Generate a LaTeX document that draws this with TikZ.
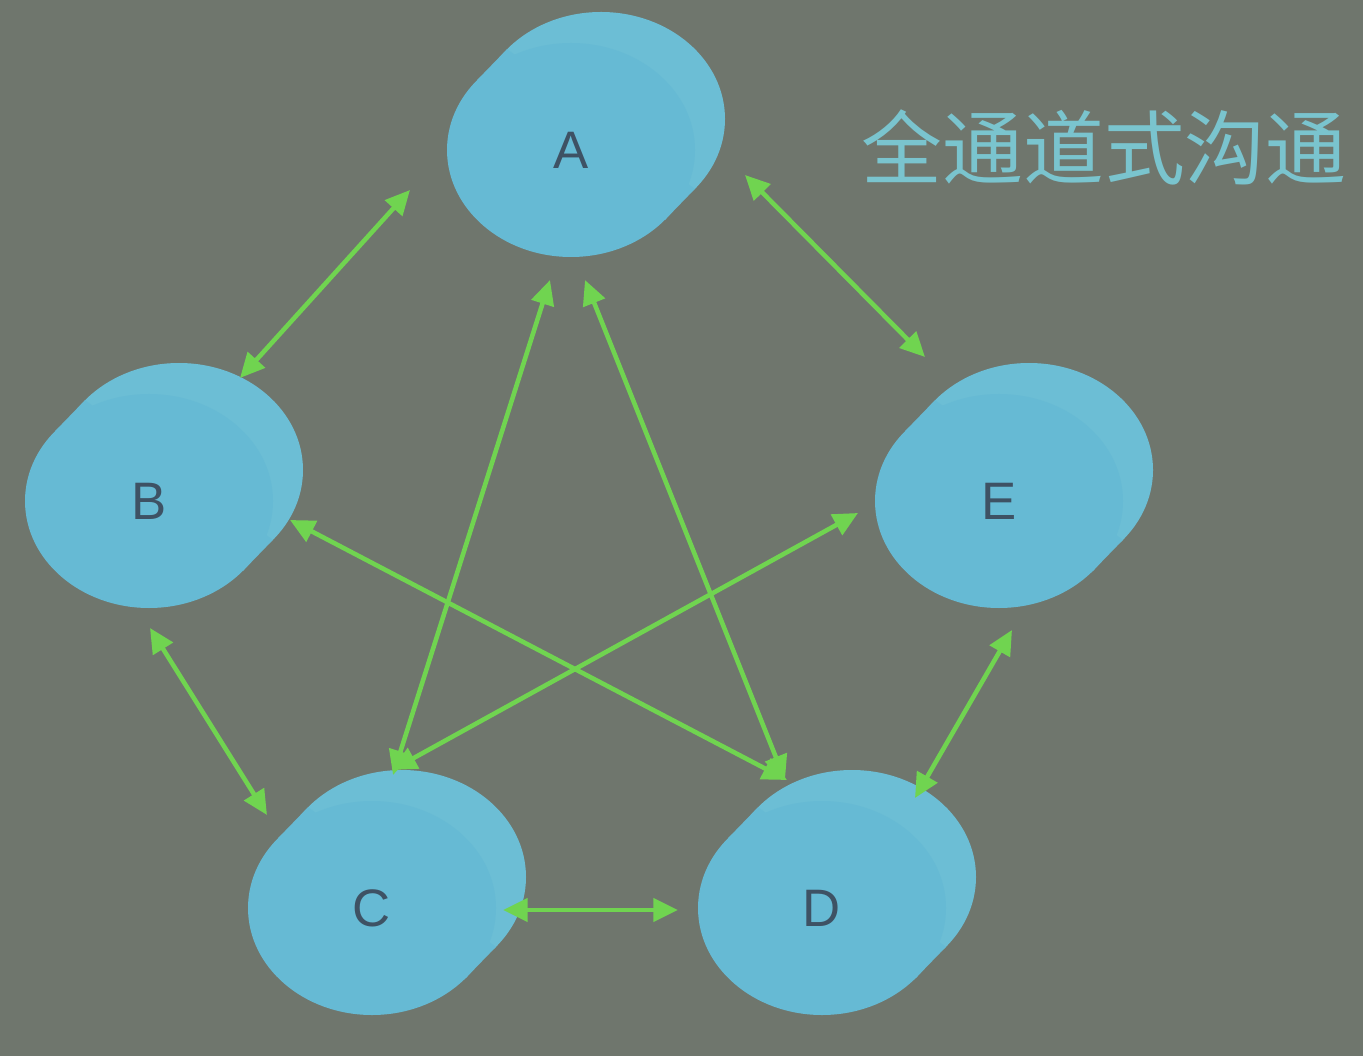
\documentclass[tikz,border=0pt]{standalone}
\usepackage{fontspec}
\setsansfont{Liberation Sans}
\newfontfamily\cjk{Noto Sans CJK SC}
\usetikzlibrary{arrows.meta}

\definecolor{slidebg}{RGB}{111,118,109}
\definecolor{blobtop}{RGB}{108,190,213}
\definecolor{blobmain}{RGB}{102,186,212}
\definecolor{linkgreen}{RGB}{112,212,80}
\definecolor{titlecyan}{RGB}{122,196,206}
\definecolor{lblgray}{RGB}{62,82,100}

\begin{document}
\begin{tikzpicture}[
    blob/.style={font=\sffamily\fontsize{15}{17}\selectfont, text=lblgray, inner sep=0pt},
    link/.style={draw=linkgreen, line width=1.3pt, {Triangle[length=7pt,width=6.5pt]}-{Triangle[length=7pt,width=6.5pt]}}
]
\fill[slidebg] (0,0) rectangle (13.63,10.56);
\useasboundingbox (0,0) rectangle (13.63,10.56);

% tilted cylinders
\foreach \n/\x/\y in {A/5.71/9.06, B/1.49/5.55, E/9.99/5.55, C/3.72/1.48, D/8.22/1.48} {
  \fill[blobtop] (\x+0.30,\y+0.31) ellipse (1.24 and 1.07);
  \fill[blobmain] (\x,\y) +(-40.8:1.24 and 1.07) -- +([shift={(0.30,0.31)}]-40.8:1.24 and 1.07)
    -- +([shift={(0.30,0.31)}]139.2:1.24 and 1.07) -- +(139.2:1.24 and 1.07) -- cycle;
  \fill[blobmain] (\x,\y) ellipse (1.24 and 1.07);
  \node[blob] (\n) at (\x,\y) {\n};
}

\node[font=\cjk\fontsize{23}{25}\selectfont, text=titlecyan] (title) at (11.04,9.09) {全通道式沟通};

\draw[link] ([shift={(-1.61,-0.40)}]A.center) -- ([shift={(0.91,1.23)}]B.center);
\draw[link] ([shift={(1.74,-0.25)}]A.center) -- ([shift={(-0.74,1.44)}]E.center);
\draw[link] ([shift={(-0.21,-1.30)}]A.center) -- ([shift={(0.21,1.33)}]C.center);
\draw[link] ([shift={(0.14,-1.30)}]A.center) -- ([shift={(-0.37,1.28)}]D.center);
\draw[link] ([shift={(1.41,-0.19)}]B.center) -- ([shift={(-0.35,1.28)}]D.center);
\draw[link] ([shift={(-1.41,-0.12)}]E.center) -- ([shift={(0.20,1.38)}]C.center);
\draw[link] ([shift={(0.01,-1.27)}]B.center) -- ([shift={(-1.05,0.93)}]C.center);
\draw[link] ([shift={(0.13,-1.29)}]E.center) -- ([shift={(0.93,1.10)}]D.center);
\draw[link] ([shift={(1.31,-0.02)}]C.center) -- ([shift={(-1.44,-0.02)}]D.center);
\end{tikzpicture}
\end{document}
